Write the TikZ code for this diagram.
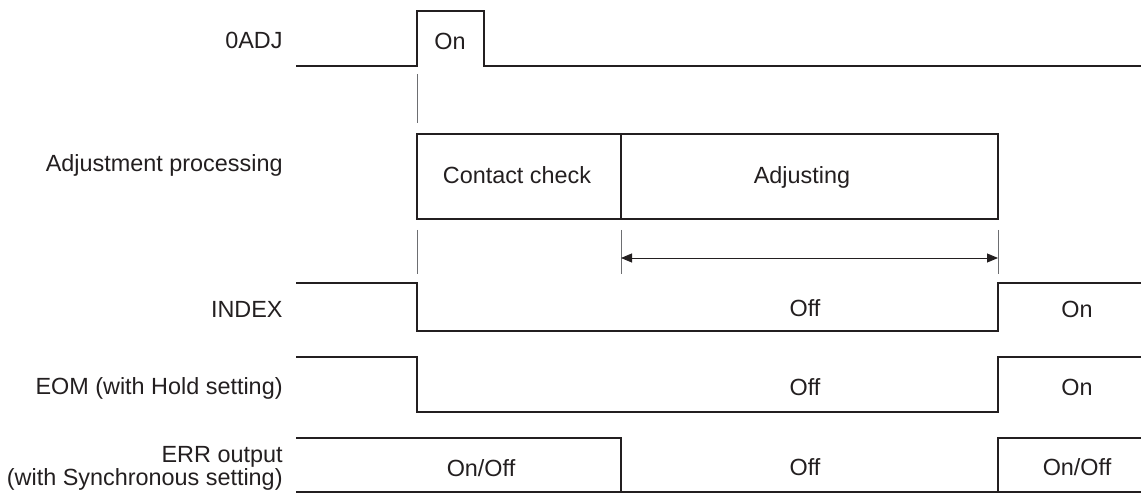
\documentclass[tikz,border=0pt]{standalone}
\usepackage{fontspec}
\setmainfont{Liberation Sans}
\usepackage{tikz}
\usetikzlibrary{arrows.meta}
\definecolor{ink}{HTML}{231F20}
\definecolor{guide}{HTML}{6D6E71}
\newcommand{\sigfont}{\fontsize{11.7}{11.5}\selectfont}
\tikzset{
  wave/.style={draw=ink, line width=0.75pt},
  procbox/.style={draw=ink, line width=0.9pt},
  guideline/.style={draw=guide, line width=0.5pt},
  span/.style={{Triangle[length=5.5pt,width=4.5pt]}-{Triangle[length=5.5pt,width=4.5pt]}, draw=ink, line width=0.45pt},
  siglbl/.style={anchor=base east, inner sep=0pt, font=\sigfont, text=ink},
  state/.style={anchor=base, inner sep=0pt, font=\sigfont, text=ink},
}
% level pair for a signal that drops at 0ADJ and comes back after adjusting
\newcommand{\dropwave}[2]{\draw[wave] (296,#1) -- (417,#1) -- (417,#2) -- (998,#2) -- (998,#1) -- (1141,#1);}

\begin{document}
\begin{tikzpicture}[x=0.5pt,y=-0.5pt]
  \useasboundingbox (0,0) rectangle (1141,497);
  % signal names
  \node[siglbl] (l0adj) at (283,49) {0ADJ};
  \node[siglbl] (lproc) at (283,172) {Adjustment processing};
  \node[siglbl] (lindex) at (283,318) {INDEX};
  \node[siglbl] (leom) at (283,394) {EOM (with Hold setting)};
  \node[siglbl, anchor=east, align=right] (lerr) at (283,468.5) {ERR output\\(with Synchronous setting)};
  % 0ADJ pulse
  \draw[wave] (296,66) -- (417,66) -- (417,11) -- (484,11) -- (484,66) -- (1141,66);
  \node[state] (adjon) at (450,50) {On};
  \draw[guideline] (417,74) -- (417,123);
  % adjustment processing
  \draw[procbox] (417,134) rectangle (998,219);
  \draw[procbox] (621,134) -- (621,219);
  \node[state] (chk) at (517,184) {Contact check};
  \node[state] (adjing) at (802,184) {Adjusting};
  \foreach \x in {417,621,998}
    \draw[guideline] (\x,230) -- (\x,274);
  \coordinate (spanL) at (621,258);
  \coordinate (spanR) at (998,258);
  \draw[span] (spanL) -- (spanR);
  % INDEX and EOM
  \dropwave{283}{331}
  \node[state] (idxoff) at (805,317) {Off};
  \node[state] (idxon) at (1077,318) {On};
  \dropwave{357}{412}
  \node[state] (eomoff) at (805,395) {Off};
  \node[state] (eomon) at (1077,395) {On};
  % ERR output
  \draw[wave] (296,438) -- (621,438) -- (621,492);
  \draw[wave] (1141,438) -- (998,438) -- (998,492);
  \draw[wave] (296,492) -- (1141,492);
  \node[state] (erra) at (481,476) {On/Off};
  \node[state] (erroff) at (805,475) {Off};
  \node[state] (errb) at (1077,475) {On/Off};
\end{tikzpicture}
\end{document}
